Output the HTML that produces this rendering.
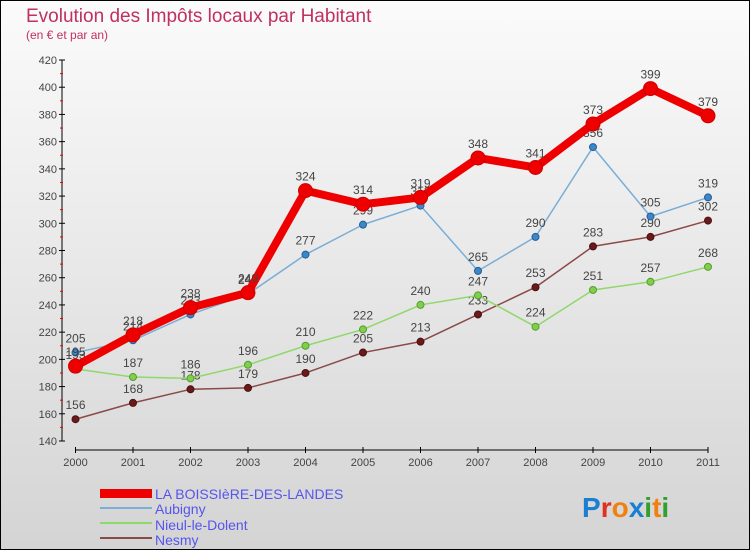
<!DOCTYPE html>
<html><head><meta charset="utf-8"><style>
body{margin:0;}
#wrap{width:750px;height:550px;position:relative;overflow:hidden;background:linear-gradient(#fbfbfb,#d4d4d4);font-family:"Liberation Sans",sans-serif;}
</style></head><body>
<div id="wrap">
<svg id="chart" width="750" height="550">
<rect x="0.5" y="0.5" width="749" height="549" fill="none" stroke="#000"/>
<text x="26" y="22" font-size="19" fill="#c03060">Evolution des Impôts locaux par Habitant</text>
<text x="26" y="39" font-size="12" fill="#c03060">(en € et par an)</text>
<g id="axes"></g><g id="series"></g>
<g>
<rect x="100" y="489" width="52" height="9" fill="#e00"/>
<text x="155" y="499" font-size="14" fill="#5555ee">LA BOISSIèRE-DES-LANDES</text>
<rect x="100" y="507" width="52" height="2" fill="#7aaed6"/>
<text x="155" y="514" font-size="14" fill="#5555ee">Aubigny</text>
<rect x="100" y="522" width="52" height="2" fill="#8fd86a"/>
<text x="155" y="530" font-size="14" fill="#5555ee">Nieul-le-Dolent</text>
<rect x="100" y="537" width="52" height="2" fill="#8a4a4a"/>
<text x="155" y="545" font-size="14" fill="#5555ee">Nesmy</text>
</g>
<text x="582" y="517" font-size="28" font-weight="bold"><tspan fill="#1a7fd0">P</tspan><tspan fill="#e03020">r</tspan><tspan fill="#f08010">o</tspan><tspan fill="#1a7fd0">x</tspan><tspan fill="#30a030">i</tspan><tspan fill="#f08010">t</tspan><tspan fill="#30a030">i</tspan></text>
</svg></div>
<script>
const years=["2000","2001","2002","2003","2004","2005","2006","2007","2008","2009","2010","2011"];
const boissiere=[195,218,238,249,324,314,319,348,341,373,399,379];
const aubigny=[205,214,233,248,277,299,313,265,290,356,305,319];
const nieul=[193,187,186,196,210,222,240,247,224,251,257,268];
const nesmy=[156,168,178,179,190,205,213,233,253,283,290,302];
const yTicks=[140,160,180,200,220,240,260,280,300,320,340,360,380,400,420];
const NS="http://www.w3.org/2000/svg";
const X=i=>75.5+i*57.5;
const Y=v=>441-(v-140)*(381/280);
function mk(t,a,p){const e=document.createElementNS(NS,t);for(const k in a)e.setAttribute(k,a[k]);p.appendChild(e);return e;}
const ax=document.getElementById('axes');
let l=mk('line',{x1:62,y1:Y(420),x2:62,y2:Y(140),stroke:'#000'},ax);


yTicks.forEach(v=>{
 mk('line',{x1:59,x2:65,y1:Y(v),y2:Y(v),stroke:'#000'},ax);
 if(v<420){mk('line',{x1:60,x2:63,y1:Y(v+10),y2:Y(v+10),stroke:'#e00'},ax);}
 const t=mk('text',{x:57,y:Y(v)+4,'text-anchor':'end','font-size':11,fill:'#444'},ax);
 t.textContent=v;
 
 
});
l=mk('line',{x1:X(0),y1:450,x2:X(11),y2:450,stroke:'#000'},ax);


years.forEach((y,i)=>{
 mk('line',{x1:X(i),x2:X(i),y1:447,y2:453,stroke:'#000'},ax);
 const t=mk('text',{x:X(i),y:466,'text-anchor':'middle','font-size':11,fill:'#444'},ax);
 t.textContent=y;
 
 
});
const sg=document.getElementById('series');
function draw(data,name,color,w,r,dot,dotStroke){
 const g=mk('g',{},sg);
 
 
 const p=mk('polyline',{points:data.map((v,i)=>X(i)+','+Y(v)).join(' '),fill:'none',stroke:color,'stroke-width':w,'stroke-linejoin':'round'},g);
 
 
 data.forEach((v,i)=>{
  const c=mk('circle',{cx:X(i),cy:Y(v),r:r,fill:dot,stroke:dotStroke,'stroke-width':1},g);
  
  
  const t=mk('text',{x:X(i),y:Y(v)-10,'text-anchor':'middle','font-size':12,fill:'#444'},g);
  t.textContent=v;
  
  
 });
}
draw(nesmy,'nesmy','#8a4a4a',1.5,3.5,'#6a1a1a','#4a1010');
draw(nieul,'nieul','#8fd86a',1.5,3.5,'#7ed04a','#5a9a30');
draw(aubigny,'aubigny','#7aaed6',1.5,3.5,'#3a88cc','#2a5a90');
draw(boissiere,'boissiere','#ee0000',8,7,'#ee0000','#c00');
</script>
</body></html>
